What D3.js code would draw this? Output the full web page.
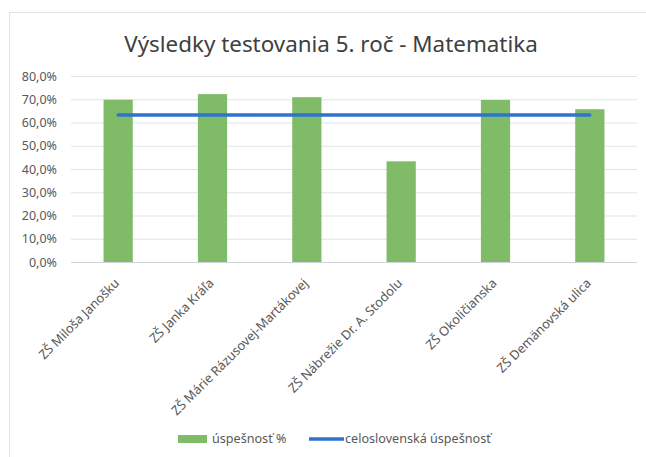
<!DOCTYPE html>
<html>
<head>
  <meta charset="utf-8">
  <title>Výsledky testovania 5. roč - Matematika</title>
  <script src="https://d3js.org/d3.v7.min.js"></script>
  <style>
    body { margin: 0; background: #fff; }
    text { font-family: "Noto Sans", "DejaVu Sans", sans-serif; }
  </style>
</head>
<body>
  <script>
    // data
    var schools = ['ZŠ Miloša Janošku', 'ZŠ Janka Kráľa', 'ZŠ Márie Rázusovej-Martákovej',
      'ZŠ Nábrežie Dr. A. Stodolu', 'ZŠ Okoličianska', 'ZŠ Demänovská ulica'];
    var uspesnost = [0.698, 0.722, 0.709, 0.433, 0.697, 0.657];
    var celoslovenska = [0.632, 0.632, 0.632, 0.632, 0.632, 0.632];
    var yTicks = [0, 0.1, 0.2, 0.3, 0.4, 0.5, 0.6, 0.7, 0.8];
    var seriesNames = ['úspešnosť %', 'celoslovenská úspešnosť'];

    var width = 646, height = 457;
    var mLeft = 71, mRight = 637, mTop = 76, mBottom = 262;
    var green = '#80bc68', blue = '#2f72cf';

    var svg = d3.select('body').append('svg')
      .attr('width', width)
      .attr('height', height);

    // chart frame
    svg.append('rect')
      .attr('x', 9.5).attr('y', 12.5)
      .attr('width', 660).attr('height', 470)
      .attr('fill', 'none')
      .attr('stroke', '#dfe4ea');

    svg.append('text')
      .attr('x', 331).attr('y', 52)
      .attr('text-anchor', 'middle')
      .attr('font-size', 22.4)
      .attr('fill', '#404040')
      .text('Výsledky testovania 5. roč - Matematika');

    var x = d3.scaleBand().domain(schools).range([mLeft, mRight]).paddingInner(0.69).paddingOuter(0.345);
    var y = d3.scaleLinear().domain([0, 0.8]).range([mBottom, mTop]);
    var fmt = function (v) { return d3.format('.1f')(v * 100).replace('.', ',') + '%'; };

    // gridlines
    svg.append('g').selectAll('line')
      .data(yTicks)
      .enter().append('line')
      .attr('x1', mLeft).attr('x2', mRight)
      .attr('y1', d => y(d) + 0.5).attr('y2', d => y(d) + 0.5)
      .attr('stroke', d => d === 0 ? '#cdd3db' : '#dfe3e8');

    // y axis labels
    var yAxis = d3.axisLeft(y).tickValues(yTicks).tickFormat(fmt).tickSize(0).tickPadding(14);
    var gy = svg.append('g').attr('transform', 'translate(' + mLeft + ',0)').call(yAxis);
    gy.select('.domain').remove();
    gy.selectAll('text').attr('font-size', 12.5).attr('fill', '#595959')
      .style('font-family', '"Noto Sans", sans-serif');

    // bars
    svg.append('g').selectAll('rect')
      .data(uspesnost)
      .enter().append('rect')
      .attr('x', (d, i) => x(schools[i]))
      .attr('y', d => y(d))
      .attr('width', x.bandwidth())
      .attr('height', d => y(0) - y(d))
      .attr('fill', green);

    // national line
    var line = d3.line()
      .x((d, i) => x(schools[i]) + x.bandwidth() / 2)
      .y(d => y(d));
    svg.append('path')
      .datum(celoslovenska)
      .attr('d', line)
      .attr('fill', 'none')
      .attr('stroke', blue)
      .attr('stroke-width', 3.5)
      .attr('stroke-linecap', 'round');

    // x labels, rotated
    var xAxis = d3.axisBottom(x).tickSize(0).tickPadding(0);
    var gx = svg.append('g').attr('transform', 'translate(0,' + mBottom + ')').call(xAxis);
    gx.select('.domain').remove();
    gx.selectAll('text')
      .attr('font-size', 12.8)
      .attr('fill', '#595959')
      .style('font-family', '"Noto Sans", sans-serif')
      .attr('text-anchor', 'end')
      .attr('y', 0)
      .attr('dy', 0)
      .attr('transform', 'translate(2,22) rotate(-45)');

    // legend
    var lg = svg.append('g');
    lg.append('rect').attr('x', 178).attr('y', 435).attr('width', 29).attr('height', 8).attr('fill', green);
    lg.append('text').attr('x', 212).attr('y', 443).attr('font-size', 12.6).attr('fill', '#595959').text(seriesNames[0]);
    lg.append('line').attr('x1', 309).attr('x2', 344).attr('y1', 439).attr('y2', 439)
      .attr('stroke', blue).attr('stroke-width', 3.5);
    lg.append('text').attr('x', 345).attr('y', 443).attr('font-size', 12.6).attr('fill', '#595959').text(seriesNames[1]);
  </script>
</body>
</html>
